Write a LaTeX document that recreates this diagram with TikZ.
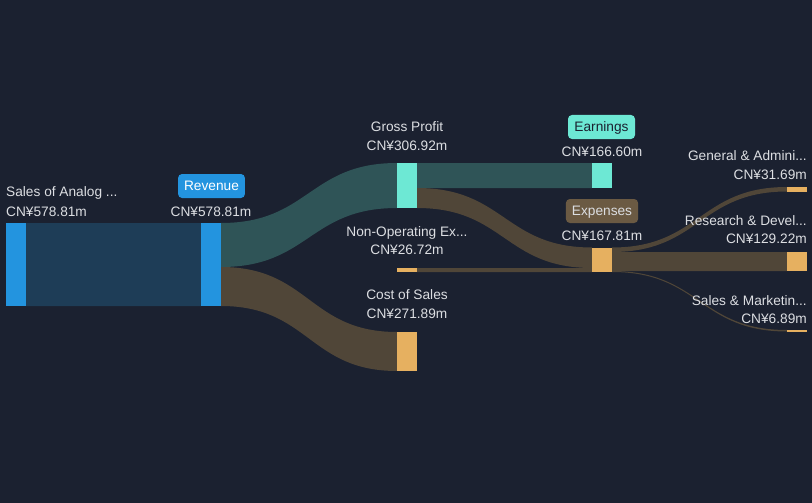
\documentclass[tikz,border=0pt]{standalone}
\usepackage{fontspec}
\setmainfont{Liberation Sans}
\definecolor{bg}{HTML}{1B2130}
\definecolor{blue}{HTML}{2394DF}
\definecolor{bluelink}{HTML}{1E3D57}
\definecolor{teal}{HTML}{6DE8D4}
\definecolor{teallink}{HTML}{2F5457}
\definecolor{orange}{HTML}{E6B060}
\definecolor{brownlink}{HTML}{504638}
\definecolor{exppill}{HTML}{6B5A43}
\definecolor{txt}{HTML}{DCDEE2}
\newcommand{\sklink}[7]{%
  \fill[#7] (#1,#2) .. controls ({(#1+#4)/2},#2) and ({(#1+#4)/2},#5) .. (#4,#5)
    -- (#4,#6) .. controls ({(#1+#4)/2},#6) and ({(#1+#4)/2},#3) .. (#1,#3) -- cycle;}
\begin{document}
\begin{tikzpicture}[x=1pt,y=-1pt,
  lbl/.style={font=\fontsize{13.7}{14}\selectfont, text=txt, inner sep=0pt, text height=9.8pt, text depth=0pt},
  pill/.style={lbl, rounded corners=4pt, minimum height=24pt, inner xsep=6pt},
  bar/.style={inner sep=0pt, anchor=north west}]
\fill[bg] (0,0) rectangle (812,503);
\useasboundingbox (0,0) rectangle (812,503);
% links
\sklink{26}{223}{306}{201}{223}{306}{bluelink}
\sklink{221}{223}{267}{397}{163}{208}{teallink}
\sklink{221}{267}{306}{397}{332}{371}{brownlink}
\sklink{417}{163}{188}{592}{163}{188}{teallink}
\sklink{417}{188}{208}{592}{247.5}{268}{brownlink}
\sklink{417}{268}{272}{592}{268}{272}{brownlink}
\sklink{612}{247.5}{252}{787}{187}{191.5}{brownlink}
\sklink{612}{252}{271}{787}{252}{271}{brownlink}
\sklink{612}{271}{272}{787}{330}{331.5}{brownlink}
% bars
\fill[blue] (6,223) rectangle (26,306) coordinate (sales);
\fill[blue] (201,223) rectangle (221,306) coordinate (rev);
\fill[teal] (397,163) rectangle (417,208) coordinate (gp);
\fill[orange] (397,268) rectangle (417,272) coordinate (nonop);
\fill[orange] (397,332) rectangle (417,371) coordinate (cos);
\fill[teal] (592,163) rectangle (612,188) coordinate (earn);
\fill[orange] (592,247.5) rectangle (612,272) coordinate (exp);
\fill[orange] (787,187) rectangle (807,191.5) coordinate (ga);
\fill[orange] (787,252) rectangle (807,271) coordinate (rd);
\fill[orange] (787,330) rectangle (807,331.5) coordinate (sm);
% labels
\node[lbl, anchor=west] (salesT) at (6,192) {Sales of Analog ...};
\node[lbl, anchor=west] (salesV) at (6,212) {CN¥578.81m};
\node[pill, fill=blue, text=white, minimum width=65pt] (revP) at (211.5,186) {Revenue};
\node[lbl] (revV) at (211,212) {CN¥578.81m};
\node[lbl] (gpT) at (407,127) {Gross Profit};
\node[lbl] (gpV) at (407,146) {CN¥306.92m};
\node[pill, fill=teal, text=bg, minimum width=67pt] (earnP) at (601.5,127) {Earnings};
\node[lbl] (earnV) at (602,152) {CN¥166.60m};
\node[pill, fill=exppill, minimum width=70pt] (expP) at (602,211) {Expenses};
\node[lbl] (expV) at (602,236) {CN¥167.81m};
\node[lbl] (nonopT) at (407,231.5) {Non-Operating Ex...};
\node[lbl] (nonopV) at (407,250) {CN¥26.72m};
\node[lbl] (cosT) at (407,295) {Cost of Sales};
\node[lbl] (cosV) at (407,314) {CN¥271.89m};
\node[lbl, anchor=east] (gaT) at (807,156) {General \& Admini...};
\node[lbl, anchor=east] (gaV) at (807,175) {CN¥31.69m};
\node[lbl, anchor=east] (rdT) at (807,221) {Research \& Devel...};
\node[lbl, anchor=east] (rdV) at (807,239) {CN¥129.22m};
\node[lbl, anchor=east] (smT) at (807,300.5) {Sales \& Marketin...};
\node[lbl, anchor=east] (smV) at (807,319) {CN¥6.89m};
\end{tikzpicture}
\end{document}
